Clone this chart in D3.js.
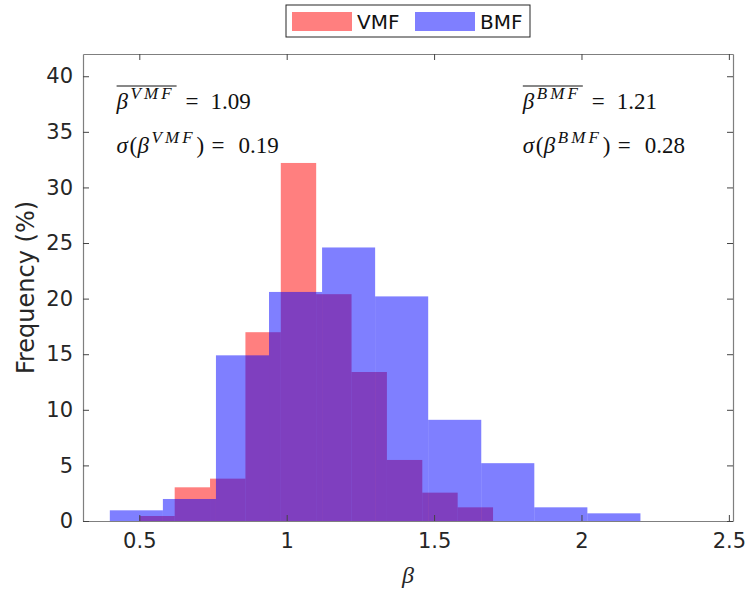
<!DOCTYPE html>
<html>
<head>
<meta charset="utf-8">
<script src="https://cdn.jsdelivr.net/npm/d3@7"></script>
<style>
  body { margin: 0; background: #fff; }
  svg { display: block; }
</style>
</head>
<body>
<div id="chart"></div>
<script>
// histogram bin edges (beta) and frequencies (%)
var vmfEdges = [0.5, 0.62, 0.74, 0.86, 0.98, 1.10, 1.22, 1.34, 1.46, 1.58, 1.70];
var vmfFreq = [0.45, 3.03, 3.81, 16.98, 32.2, 20.4, 13.4, 5.49, 2.55, 1.23];
var bmfEdges = [0.4, 0.58, 0.76, 0.94, 1.12, 1.30, 1.48, 1.66, 1.84, 2.02, 2.20];
var bmfFreq = [0.96, 1.98, 14.9, 20.6, 24.6, 20.2, 9.1, 5.2, 1.23, 0.69];
var xTicks = [0.5, 1, 1.5, 2, 2.5];
var yTicks = [0, 5, 10, 15, 20, 25, 30, 35, 40];
var seriesNames = ["VMF", "BMF"];
var seriesColors = ["#ff0000", "#0000ff"];
var means = [1.09, 1.21];
var sigmas = [0.19, 0.28];

var W = 748, H = 590;
var margin = { top: 54, right: 15, bottom: 69, left: 83 },
  width = W - margin.left - margin.right,
  height = H - margin.top - margin.bottom;

var svg = d3.select("#chart")
  .append("svg")
  .attr("width", W)
  .attr("height", H);

var g = svg.append("g")
  .attr("transform", "translate(" + margin.left + "," + margin.top + ")");

var x = d3.scaleLinear().domain([0.309, 2.514]).range([0, width]);
var y = d3.scaleLinear().domain([0, 42]).range([height, 0]);

function bins(edges, freq) {
  return freq.map(function (f, i) { return { x0: edges[i], x1: edges[i + 1], f: f }; });
}

// bars: red first, blue drawn over it (both half transparent)
[bins(vmfEdges, vmfFreq), bins(bmfEdges, bmfFreq)].forEach(function (data, k) {
  g.append("g").selectAll("rect")
    .data(data)
    .enter()
    .append("rect")
    .attr("x", function (d) { return x(d.x0); })
    .attr("width", function (d) { return x(d.x1) - x(d.x0); })
    .attr("y", function (d) { return y(d.f); })
    .attr("height", function (d) { return height - y(d.f); })
    .attr("fill", seriesColors[k])
    .attr("fill-opacity", 0.5);
});

// axes (ticks inside, mirrored on top/right)
var tickCol = "#262626";
var xAxis = g.append("g")
  .attr("transform", "translate(0," + height + ")")
  .call(d3.axisBottom(x).tickValues(xTicks).tickSizeInner(-6).tickSizeOuter(0).tickPadding(12)
    .tickFormat(d3.format("")));
var yAxis = g.append("g")
  .call(d3.axisLeft(y).tickValues(yTicks).tickSizeInner(-6).tickSizeOuter(0).tickPadding(10));
var xTop = g.append("g")
  .call(d3.axisTop(x).tickValues(xTicks).tickSizeInner(-6).tickSizeOuter(0).tickFormat(""));
var yRight = g.append("g")
  .attr("transform", "translate(" + width + ",0)")
  .call(d3.axisRight(y).tickValues(yTicks).tickSizeInner(-6).tickSizeOuter(0).tickFormat(""));

[xAxis, yAxis, xTop, yRight].forEach(function (a) {
  a.select(".domain").attr("stroke", "#7f7f7f").attr("stroke-width", 1.2);
  a.selectAll(".tick line").attr("stroke", "#444");
  a.selectAll(".tick text")
    .attr("fill", tickCol)
    .style("font-family", "DejaVu Sans, sans-serif")
    .style("font-size", "21px");
});

// axis labels
g.append("text")
  .attr("x", width / 2)
  .attr("y", height + 62)
  .attr("text-anchor", "middle")
  .style("font-family", "Liberation Serif, serif")
  .style("font-style", "italic")
  .style("font-size", "24px")
  .attr("fill", tickCol)
  .text("β");

svg.append("text")
  .attr("transform", "translate(34," + (margin.top + height / 2) + ") rotate(-90)")
  .attr("text-anchor", "middle")
  .style("font-family", "DejaVu Sans, sans-serif")
  .style("font-size", "24px")
  .attr("fill", tickCol)
  .text("Frequency (%)");

// mean / sigma annotations (LaTeX-like layout)
var annX = [x(0.423), x(1.801)];
seriesNames.forEach(function (name, k) {
  var t = g.append("g")
    .attr("transform", "translate(" + annX[k] + ",0)")
    .style("font-family", "Liberation Serif, serif")
    .style("font-size", "23px")
    .attr("fill", "#111");

  // line 1: mean
  var l1 = t.append("text").attr("y", 55);
  l1.append("tspan").attr("x", 0).style("font-style", "italic").text("β");
  l1.append("tspan").attr("x", 14).attr("dy", -10)
    .style("font-style", "italic").style("font-size", "17px")
    .attr("textLength", 41).attr("lengthAdjust", "spacing").text(name);
  l1.append("tspan").attr("x", 69).attr("dy", 10).text("=");
  l1.append("tspan").attr("x", 94).text(means[k].toFixed(2));
  t.append("line")
    .attr("x1", 0).attr("x2", 60)
    .attr("y1", 32).attr("y2", 32)
    .attr("stroke", "#111").attr("stroke-width", 1);

  // line 2: sigma
  var l2 = t.append("text").attr("y", 99);
  l2.append("tspan").attr("x", 0).style("font-style", "italic").text("σ");
  l2.append("tspan").attr("x", 13).text("(");
  l2.append("tspan").attr("x", 21).style("font-style", "italic").text("β");
  l2.append("tspan").attr("x", 35).attr("dy", -10)
    .style("font-style", "italic").style("font-size", "17px")
    .attr("textLength", 41).attr("lengthAdjust", "spacing").text(name);
  l2.append("tspan").attr("x", 80).attr("dy", 10).text(")");
  l2.append("tspan").attr("x", 95).text("=");
  l2.append("tspan").attr("x", 122).text(sigmas[k].toFixed(2));
});

// legend
var leg = svg.append("g").attr("transform", "translate(286,5)");
leg.append("rect")
  .attr("width", 244).attr("height", 32)
  .attr("fill", "#fff").attr("stroke", "#262626").attr("stroke-width", 1);
var legX = [6, 129];
seriesNames.forEach(function (name, k) {
  leg.append("rect")
    .attr("x", legX[k]).attr("y", 7)
    .attr("width", 60).attr("height", 19)
    .attr("fill", seriesColors[k]).attr("fill-opacity", 0.5);
  leg.append("text")
    .attr("x", legX[k] + 65).attr("y", 24)
    .style("font-family", "DejaVu Sans, sans-serif")
    .style("font-size", "20px")
    .attr("fill", "#111")
    .text(name);
});
</script>
</body>
</html>
